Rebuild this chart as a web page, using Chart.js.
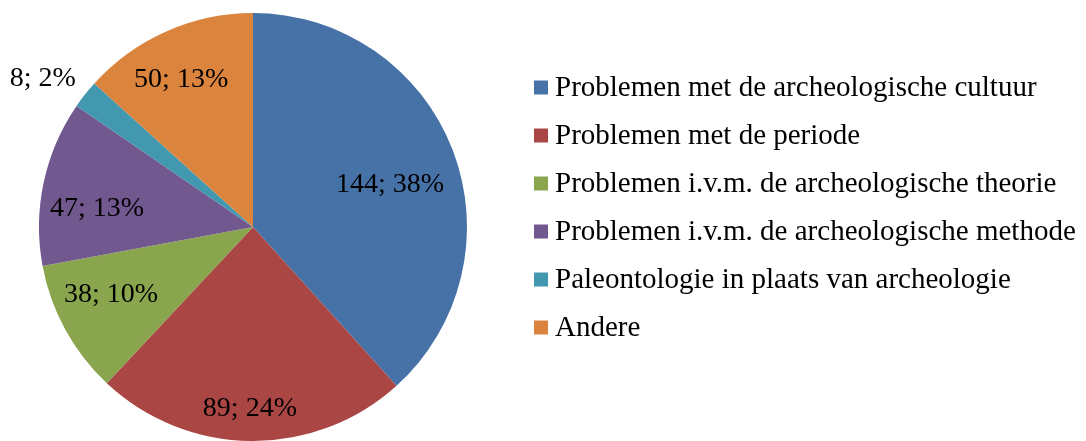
<!DOCTYPE html>
<html>
<head>
<meta charset="utf-8">
<script src="https://cdn.jsdelivr.net/npm/chart.js@4.4.1/dist/chart.umd.min.js"></script>
<style>
  html, body { margin: 0; padding: 0; background: #fff; }
  #wrap { width: 1086px; height: 441px; position: relative; }
</style>
</head>
<body>
<div id="wrap"><canvas id="chart"></canvas></div>
<script>
const categories = [
  "Problemen met de archeologische cultuur",
  "Problemen met de periode",
  "Problemen i.v.m. de archeologische theorie",
  "Problemen i.v.m. de archeologische methode",
  "Paleontologie in plaats van archeologie",
  "Andere",
];
const counts = [144, 89, 38, 47, 8, 50];
const percents = [38, 24, 10, 13, 2, 13];

const colors = ["#4672a8", "#aa4644", "#89a54e", "#71588f", "#4298af", "#db843d"];
// label placement: share of the radius, and turn (degrees) from the slice middle
const labelRadius = [0.673, 0.841, 0.73, 0.735, 1.206, 0.773];
const labelTurn = [3.2, 0.5, 4, -4.7, -2.8, -1.8];

const labelFont = "28px 'Liberation Serif', 'Times New Roman', serif";
const legendFont = "29px 'Liberation Serif', 'Times New Roman', serif";

const pieLabels = {
  id: "pieLabels",
  afterDatasetsDraw(chart) {
    const ctx = chart.ctx;
    const arcs = chart.getDatasetMeta(0).data;
    ctx.save();
    ctx.font = labelFont;
    ctx.fillStyle = "#000";
    ctx.textAlign = "center";
    ctx.textBaseline = "middle";
    arcs.forEach((arc, i) => {
      const mid = (arc.startAngle + arc.endAngle) / 2 + (labelTurn[i] * Math.PI) / 180;
      const r = arc.outerRadius * labelRadius[i];
      const x = arc.x + Math.cos(mid) * r;
      const y = arc.y + Math.sin(mid) * r;
      ctx.fillText(counts[i] + "; " + percents[i] + "%", x, y + 2);
    });
    ctx.restore();
  },
};

const sideLegend = {
  id: "sideLegend",
  afterDraw(chart) {
    const ctx = chart.ctx;
    ctx.save();
    ctx.font = legendFont;
    ctx.textBaseline = "middle";
    categories.forEach((name, i) => {
      const y = 87.5 + i * 48;
      ctx.fillStyle = colors[i];
      ctx.fillRect(534, y - 7, 14, 14);
      ctx.fillStyle = "#000";
      ctx.fillText(name, 555, y + 1);
    });
    ctx.restore();
  },
};

new Chart(document.getElementById("chart").getContext("2d"), {
  type: "pie",
  data: {
    labels: categories,
    datasets: [
      {
        data: counts,
        backgroundColor: colors,
        borderWidth: 0,
      },
    ],
  },
  options: {
    responsive: true,
    maintainAspectRatio: false,
    animation: false,
    layout: { padding: { left: 39, right: 619, top: 13, bottom: 0 } },
    plugins: {
      legend: { display: false },
      tooltip: { enabled: false },
    },
  },
  plugins: [pieLabels, sideLegend],
});
</script>
</body>
</html>
